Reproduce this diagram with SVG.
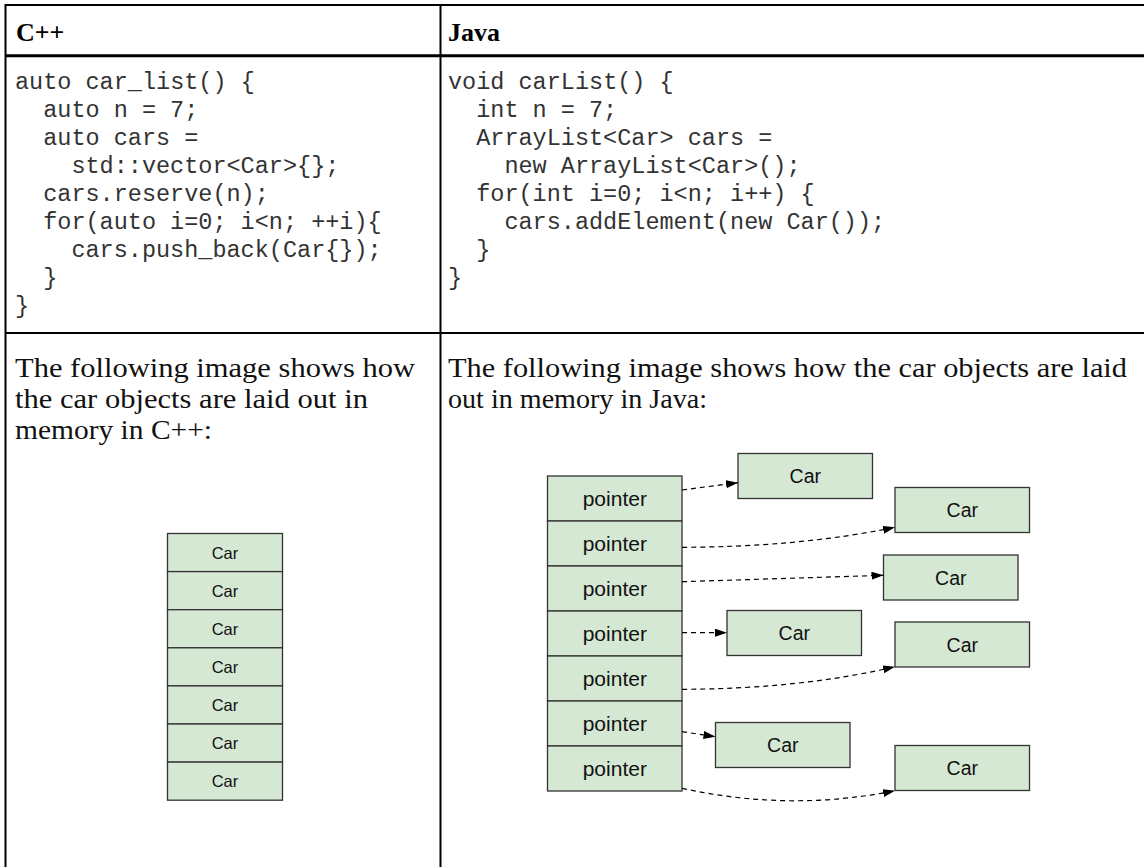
<svg xmlns="http://www.w3.org/2000/svg" width="1144" height="867" viewBox="0 0 1144 867">
<style>
.grid{stroke:#000;stroke-width:2;fill:none}
.hdr{font-family:"Liberation Serif","Times New Roman",serif;font-weight:bold;font-size:26px;fill:#000}
.code{font-family:"Liberation Mono","Courier New",monospace;font-size:23.5px;fill:#333}
.para{font-family:"Liberation Serif","Times New Roman",serif;font-size:27px;fill:#111}
.box{fill:#d5e8d4;stroke:#333;stroke-width:1.3}
.lbl{font-family:"Liberation Sans",Arial,sans-serif;text-anchor:middle;fill:#111}
.s16{font-size:16.5px}
.s20{font-size:19.5px}
.s21{font-size:21px}
.conn{fill:none;stroke:#000;stroke-width:1.2;stroke-dasharray:5 4}
</style>
<defs>
<marker id="arr" markerUnits="userSpaceOnUse" markerWidth="13" markerHeight="9" refX="12" refY="4" orient="auto">
<path d="M0,0 L12,4 L0,8 z" fill="#000"/>
</marker>
</defs>
<rect width="1144" height="867" fill="#fff"/>
<g id="table">
<line class="grid" x1="5.5" y1="5" x2="1144" y2="5"/>
<line class="grid" x1="5.5" y1="55.8" x2="1144" y2="55.8" style="stroke-width:3"/>
<line class="grid" x1="5.5" y1="333" x2="1144" y2="333"/>
<line class="grid" x1="5.5" y1="4" x2="5.5" y2="867"/>
<line class="grid" x1="440.5" y1="4" x2="440.5" y2="867"/>
</g>
<g id="headers">
<text class="hdr" x="16" y="41">C++</text>
<text class="hdr" x="448" y="41">Java</text>
</g>
<g id="cpp-code" class="code">
<text x="15" y="89">auto car_list() {</text>
<text x="43.2" y="117">auto n = 7;</text>
<text x="43.2" y="145">auto cars =</text>
<text x="71.4" y="173">std::vector&lt;Car&gt;{};</text>
<text x="43.2" y="201">cars.reserve(n);</text>
<text x="43.2" y="229">for(auto i=0; i&lt;n; ++i){</text>
<text x="71.4" y="257">cars.push_back(Car{});</text>
<text x="43.2" y="285">}</text>
<text x="15" y="313">}</text>
</g>
<g id="java-code" class="code">
<text x="448" y="89">void carList() {</text>
<text x="476.2" y="117">int n = 7;</text>
<text x="476.2" y="145">ArrayList&lt;Car&gt; cars =</text>
<text x="504.4" y="173">new ArrayList&lt;Car&gt;();</text>
<text x="476.2" y="201">for(int i=0; i&lt;n; i++) {</text>
<text x="504.4" y="229">cars.addElement(new Car());</text>
<text x="476.2" y="257">}</text>
<text x="448" y="285">}</text>
</g>
<g id="cpp-text" class="para">
<text x="15" y="377" textLength="400" lengthAdjust="spacingAndGlyphs">The following image shows how</text>
<text x="15" y="408" textLength="353" lengthAdjust="spacingAndGlyphs">the car objects are laid out in</text>
<text x="15" y="439" textLength="197" lengthAdjust="spacingAndGlyphs">memory in C++:</text>
</g>
<g id="java-text" class="para">
<text x="448" y="377" textLength="679" lengthAdjust="spacingAndGlyphs">The following image shows how the car objects are laid</text>
<text x="448" y="408" textLength="259" lengthAdjust="spacingAndGlyphs">out in memory in Java:</text>
</g>
<g id="cpp-cars">
<g id="cpp-car-1"><rect class="box" x="167.5" y="533.5" width="115" height="38.1"/><text class="lbl s16" x="225" y="558.5">Car</text></g>
<g id="cpp-car-2"><rect class="box" x="167.5" y="571.6" width="115" height="38.1"/><text class="lbl s16" x="225" y="596.6">Car</text></g>
<g id="cpp-car-3"><rect class="box" x="167.5" y="609.7" width="115" height="38.1"/><text class="lbl s16" x="225" y="634.7">Car</text></g>
<g id="cpp-car-4"><rect class="box" x="167.5" y="647.8" width="115" height="38.1"/><text class="lbl s16" x="225" y="672.8">Car</text></g>
<g id="cpp-car-5"><rect class="box" x="167.5" y="685.9" width="115" height="38.1"/><text class="lbl s16" x="225" y="710.9">Car</text></g>
<g id="cpp-car-6"><rect class="box" x="167.5" y="724" width="115" height="38.1"/><text class="lbl s16" x="225" y="749">Car</text></g>
<g id="cpp-car-7"><rect class="box" x="167.5" y="762.1" width="115" height="38.1"/><text class="lbl s16" x="225" y="787.1">Car</text></g>
</g>
<g id="java-pointers">
<g id="ptr-1"><rect class="box" x="547.5" y="476" width="134.5" height="45"/><text class="lbl s21" x="614.8" y="505.5">pointer</text></g>
<g id="ptr-2"><rect class="box" x="547.5" y="521" width="134.5" height="45"/><text class="lbl s21" x="614.8" y="550.5">pointer</text></g>
<g id="ptr-3"><rect class="box" x="547.5" y="566" width="134.5" height="45"/><text class="lbl s21" x="614.8" y="595.5">pointer</text></g>
<g id="ptr-4"><rect class="box" x="547.5" y="611" width="134.5" height="45"/><text class="lbl s21" x="614.8" y="640.5">pointer</text></g>
<g id="ptr-5"><rect class="box" x="547.5" y="656" width="134.5" height="45"/><text class="lbl s21" x="614.8" y="685.5">pointer</text></g>
<g id="ptr-6"><rect class="box" x="547.5" y="701" width="134.5" height="45"/><text class="lbl s21" x="614.8" y="730.5">pointer</text></g>
<g id="ptr-7"><rect class="box" x="547.5" y="746" width="134.5" height="45"/><text class="lbl s21" x="614.8" y="775.5">pointer</text></g>
</g>
<g id="java-cars">
<g id="jcar-1"><rect class="box" x="738" y="453.5" width="134.5" height="45"/><text class="lbl s20" x="805.3" y="483">Car</text></g>
<g id="jcar-2"><rect class="box" x="895" y="487.5" width="134.5" height="45"/><text class="lbl s20" x="962.3" y="517">Car</text></g>
<g id="jcar-3"><rect class="box" x="883.5" y="555" width="134.5" height="45"/><text class="lbl s20" x="950.8" y="584.5">Car</text></g>
<g id="jcar-4"><rect class="box" x="727" y="610.5" width="134.5" height="45"/><text class="lbl s20" x="794.3" y="640">Car</text></g>
<g id="jcar-5"><rect class="box" x="895" y="622" width="134.5" height="45"/><text class="lbl s20" x="962.3" y="651.5">Car</text></g>
<g id="jcar-6"><rect class="box" x="715.5" y="722.5" width="134.5" height="45"/><text class="lbl s20" x="782.8" y="752">Car</text></g>
<g id="jcar-7"><rect class="box" x="895" y="745.5" width="134.5" height="45"/><text class="lbl s20" x="962.3" y="775">Car</text></g>
</g>
<g id="connectors">
<path class="conn" marker-end="url(#arr)" d="M682,490 L738,482.7"/>
<path class="conn" marker-end="url(#arr)" d="M682,547.3 Q800,547 895,527.3"/>
<path class="conn" marker-end="url(#arr)" d="M682,581.7 L883.5,575.3"/>
<path class="conn" marker-end="url(#arr)" d="M682,632.7 L727,632.7"/>
<path class="conn" marker-end="url(#arr)" d="M682,689.3 Q800,689 895,666.7"/>
<path class="conn" marker-end="url(#arr)" d="M682,731.7 L715.5,736.7"/>
<path class="conn" marker-end="url(#arr)" d="M682,788.3 Q790,812 895,790.7"/>
</g>
</svg>
